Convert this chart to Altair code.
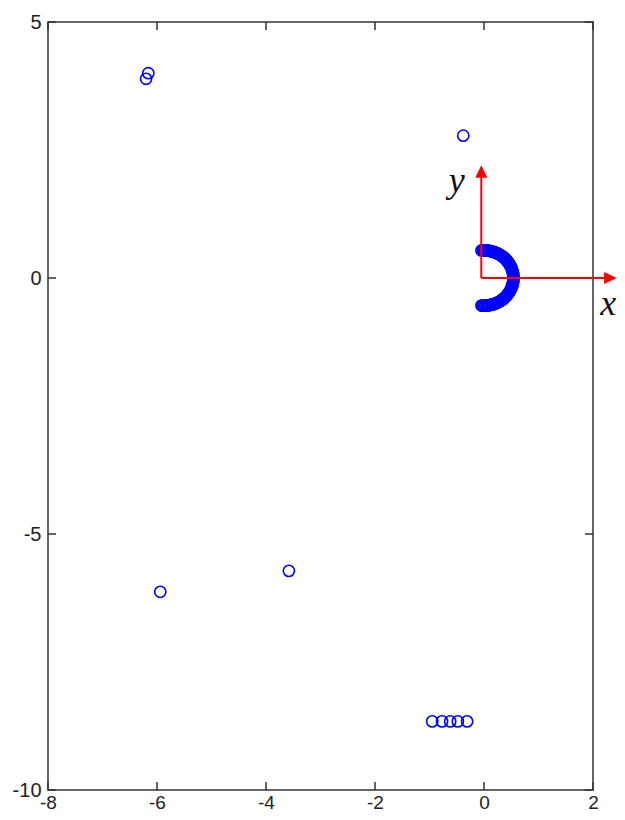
import altair as alt
import numpy as np
import pandas as pd

# ---- data ----
# scattered points
pts_x = [-6.20, -6.16, -0.38, -5.94, -3.58, -0.95, -0.77, -0.62, -0.48, -0.31]
pts_y = [3.89, 4.00, 2.78, -6.13, -5.72, -8.66, -8.66, -8.66, -8.66, -8.66]

# dense half ring near the origin as (angle in degrees, radius)
arc_deg = [-95, -92.5, -90, -87.5, -85, -82.5, -80, -77.5, -75, -72.5,
           -70, -67.5, -65, -62.5, -60, -57.5, -55, -52.5, -50, -47.5,
           -45, -42.5, -40, -37.5, -35, -32.5, -30, -27.5, -25, -22.5,
           -20, -17.5, -15, -12.5, -10, -7.5, -5, -2.5, 0, 2.5,
           5, 7.5, 10, 12.5, 15, 17.5, 20, 22.5, 25, 27.5,
           30, 32.5, 35, 37.5, 40, 42.5, 45, 47.5, 50, 52.5,
           55, 57.5, 60, 62.5, 65, 67.5, 70, 72.5, 75, 77.5,
           80, 82.5, 85, 87.5, 90, 92.5, 95]
arc_r = [0.54] * len(arc_deg)

# coordinate arrows (annotation)
arrow_x0 = [-0.05, -0.05]
arrow_y0 = [0.0, 0.0]
arrow_x1 = [-0.05, 2.32]
arrow_y1 = [2.08, 0.0]
arrow_shape = ["M0,-1L-0.95,1L0.95,1Z", "M1,0L-1,-0.95L-1,0.95Z"]
label_x = [-0.50, 2.28]
label_y = [1.90, -0.50]
label_text = ["y", "x"]

x_ticks = [-8, -6, -4, -2, 0, 2]
y_ticks = [-10, -5, 0, 5]
x_domain = [-8, 2]
y_domain = [-10, 5]

W, H = 545, 768
TL = 8
blue = "#0000FF"
red = "#FF0000"
frame = "#333333"

arc_rad = np.radians(arc_deg)
arc_x = list(np.array(arc_r) * np.cos(arc_rad))
arc_y = list(np.array(arc_r) * np.sin(arc_rad))

pts = pd.DataFrame({"x": pts_x + arc_x, "y": pts_y + arc_y})
arrows = pd.DataFrame({"x": arrow_x0, "y": arrow_y0, "x2": arrow_x1, "y2": arrow_y1})
labels = pd.DataFrame({"x": label_x, "y": label_y, "t": label_text})
xt = pd.DataFrame({"v": x_ticks})
yt = pd.DataFrame({"v": y_ticks})

xs = alt.Scale(domain=x_domain, nice=False, zero=False)
ys = alt.Scale(domain=y_domain, nice=False, zero=False)

xaxis = alt.Axis(values=x_ticks, domain=False, ticks=False, grid=False, title=None,
                 labelFont="Liberation Sans", labelFontSize=19, labelColor="#222222",
                 labelPadding=3, labelFlush=False, labelExpr="toString(datum.value)")
yaxis = alt.Axis(values=y_ticks, domain=False, ticks=False, grid=False, title=None,
                 labelFont="Liberation Sans", labelFontSize=20, labelColor="#222222",
                 labelPadding=7, labelFlush=False, labelExpr="toString(datum.value)")

points = alt.Chart(pts).mark_point(shape="circle", filled=False, color=blue,
                                   size=125, strokeWidth=1.6, opacity=1).encode(
    x=alt.X("x:Q", scale=xs, axis=xaxis),
    y=alt.Y("y:Q", scale=ys, axis=yaxis),
)

arrow_lines = alt.Chart(arrows).mark_rule(color=red, strokeWidth=2).encode(
    x=alt.X("x:Q", scale=xs), y=alt.Y("y:Q", scale=ys),
    x2="x2:Q", y2="y2:Q",
)

heads = pd.DataFrame({"x": arrow_x1, "y": arrow_y1, "s": arrow_shape})
arrow_heads = alt.Chart(heads).mark_point(filled=True, color=red, size=160, opacity=1).encode(
    x=alt.X("x:Q", scale=xs), y=alt.Y("y:Q", scale=ys),
    shape=alt.Shape("s:N", scale=None),
)

axis_labels = alt.Chart(labels).mark_text(font="Liberation Serif", fontStyle="italic",
                                          fontSize=36, color="#111111",
                                          align="center", baseline="middle").encode(
    x=alt.X("x:Q", scale=xs), y=alt.Y("y:Q", scale=ys), text="t:N",
)

# inside tick marks on all four sides
tick_style = dict(color=frame, strokeWidth=1.5)
t_bottom = alt.Chart(xt).mark_rule(**tick_style).encode(
    x=alt.X("v:Q", scale=xs), y=alt.value(H), y2=alt.value(H - TL))
t_top = alt.Chart(xt).mark_rule(**tick_style).encode(
    x=alt.X("v:Q", scale=xs), y=alt.value(0), y2=alt.value(TL))
t_left = alt.Chart(yt).mark_rule(**tick_style).encode(
    y=alt.Y("v:Q", scale=ys), x=alt.value(0), x2=alt.value(TL))
t_right = alt.Chart(yt).mark_rule(**tick_style).encode(
    y=alt.Y("v:Q", scale=ys), x=alt.value(W), x2=alt.value(W - TL))

chart = alt.layer(
    t_bottom, t_top, t_left, t_right, points, arrow_lines, arrow_heads, axis_labels
).properties(
    width=W, height=H,
    autosize=alt.AutoSizeParams(type="none"),
    padding={"left": 40, "top": 14, "right": 24, "bottom": 21},
).configure_view(
    stroke=frame, strokeWidth=1.5
)

chart.save("out.html", embed_options={"renderer": "svg", "actions": False})
